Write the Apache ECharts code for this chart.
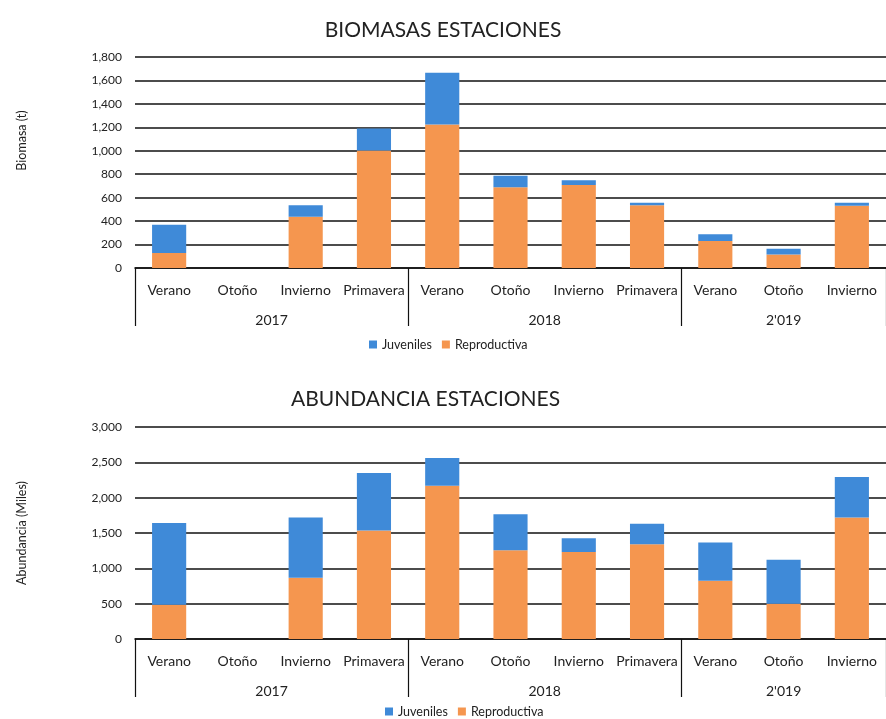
<!DOCTYPE html>
<html>
<head>
<meta charset="utf-8">
<script src="https://cdn.jsdelivr.net/npm/echarts@6/dist/echarts.min.js"></script>
<style>
html,body{margin:0;padding:0;background:#fff;}
#c{width:886px;height:719px;}
</style>
</head>
<body>
<div id="c"></div>
<script>
// ---- data ----
const seasons = ['Verano','Otoño','Invierno','Primavera','Verano','Otoño','Invierno','Primavera','Verano','Otoño','Invierno'];
const yearLabels = ['2017','2018',"2'019"];
const yearGroupSizes = [4,4,3];
const seriesNames = ['Juveniles','Reproductiva'];

const biomasaReproductiva = [128, 0, 438, 1003, 1225, 689, 708, 535, 231, 115, 530];
const biomasaJuveniles    = [242, 0,  98,  187,  440,  97,  40,  21,  57,  49,  27];

const abundanciaReproductiva = [485, 0, 865, 1535, 2170, 1255, 1230, 1340, 825, 500, 1720];
const abundanciaJuveniles    = [1155, 0, 855, 815, 390, 510, 195, 290, 542, 620, 573];

const biomasaTicks = {min:0, max:1800, interval:200};
const abundanciaTicks = {min:0, max:3000, interval:500};

// ---- derived group boundaries for the multi-level axis ----
const bounds = [0];
yearGroupSizes.forEach(s => bounds.push(bounds[bounds.length-1] + s));
const centers = yearGroupSizes.map((s,i) => bounds[i] + s/2);

const FONT = 'Lato';
const BLUE = '#3f8ad8';
const ORANGE = '#f5964f';
const TXT = '#222';
const fmt = v => v.toLocaleString('en-US');

function xAxesFor(gi){
  return [
    {
      type:'category', gridIndex:gi, data:seasons,
      axisLine:{lineStyle:{color:'#111', width:1.6}},
      axisTick:{show:false},
      axisLabel:{interval:0, margin:15, fontSize:14, color:TXT, fontFamily:FONT}
    },
    {
      type:'value', gridIndex:gi, position:'bottom', min:0, max:bounds[bounds.length-1],
      axisLine:{show:false}, splitLine:{show:false},
      axisTick:{show:true, customValues:bounds, length:58, lineStyle:{color:'#111', width:1.2}},
      axisLabel:{customValues:centers, formatter:v => yearLabels[centers.indexOf(v)],
        margin:45, fontSize:14, color:TXT, fontFamily:FONT}
    }
  ];
}

function yAxisFor(gi, ticks, name, namePad){
  return {
    type:'value', gridIndex:gi, min:ticks.min, max:ticks.max, interval:ticks.interval,
    name:name, nameLocation:'middle', nameGap:107, nameRotate:90,
    nameTextStyle:{fontSize:12.5, color:TXT, fontFamily:FONT, padding:namePad},
    axisLine:{show:false}, axisTick:{show:false},
    axisLabel:{formatter:fmt, margin:13, fontSize:12, color:TXT, fontFamily:FONT},
    splitLine:{lineStyle:{color:'#111', width:1.7}}
  };
}

const chart = echarts.init(document.getElementById('c'), null, {renderer:'canvas'});
chart.setOption({
  animation:false,
  backgroundColor:'#fff',
  title:[
    {text:'BIOMASAS ESTACIONES', left:'center', top:15,
      textStyle:{fontSize:21, fontWeight:'normal', color:TXT, fontFamily:FONT}},
    {text:'ABUNDANCIA ESTACIONES', left:286, top:384,
      textStyle:{fontSize:21, fontWeight:'normal', color:TXT, fontFamily:FONT}}
  ],
  legend:[
    {data:seriesNames, left:364, top:333, icon:'rect', itemWidth:8, itemHeight:8, itemGap:10,
      textStyle:{fontSize:12.5, color:TXT, fontFamily:FONT}},
    {data:seriesNames, left:380, top:700, icon:'rect', itemWidth:8, itemHeight:8, itemGap:10,
      textStyle:{fontSize:12.5, color:TXT, fontFamily:FONT}}
  ],
  grid:[
    {left:135, top:57, width:757, height:211},
    {left:135, top:427, width:757, height:212}
  ],
  xAxis:[...xAxesFor(0), ...xAxesFor(1)],
  yAxis:[
    yAxisFor(0, biomasaTicks, 'Biomasa (t)', [0,0,0,44]),
    yAxisFor(1, abundanciaTicks, 'Abundancia (Miles)', [0,0,0,0])
  ],
  series:[
    {name:'Reproductiva', type:'bar', stack:'b', xAxisIndex:0, yAxisIndex:0, barWidth:'50%',
      itemStyle:{color:ORANGE}, data:biomasaReproductiva},
    {name:'Juveniles', type:'bar', stack:'b', xAxisIndex:0, yAxisIndex:0, barWidth:'50%',
      itemStyle:{color:BLUE}, data:biomasaJuveniles},
    {name:'Reproductiva', type:'bar', stack:'a', xAxisIndex:2, yAxisIndex:1, barWidth:'50%',
      itemStyle:{color:ORANGE}, data:abundanciaReproductiva},
    {name:'Juveniles', type:'bar', stack:'a', xAxisIndex:2, yAxisIndex:1, barWidth:'50%',
      itemStyle:{color:BLUE}, data:abundanciaJuveniles}
  ]
});
</script>
</body>
</html>
